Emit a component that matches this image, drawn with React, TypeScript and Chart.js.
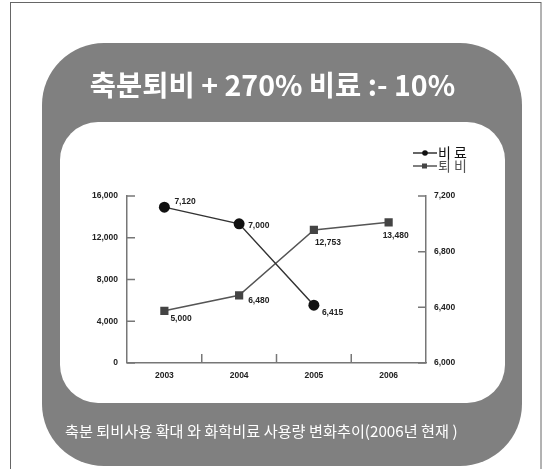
import { useEffect, useRef } from 'react';
import { Chart, registerables } from 'chart.js';

Chart.register(...registerables);

const years = ['2003', '2004', '2005', '2006'];
const fertilizer: (number | null)[] = [7120, 7000, 6415, null];
const compost: number[] = [5000, 6480, 12753, 13480];
const leftTickValues = [0, 4000, 8000, 12000, 16000];
const rightTickValues = [6000, 6400, 6800, 7200];
const seriesNames = ['비 료', '퇴 비'];
const titleText = '축분퇴비 + 270% 비료 :- 10%';
const footerText = '축분 퇴비사용 확대 와 화학비료 사용량 변화추이(2006년 현재 )';

// label placement relative to each point (style, not data)
const labelOffsets: number[][][] = [
  [[10, -5], [9, 2], [8, 7], [0, 0]],
  [[6, 8], [9, 5], [1, 13], [-6, 13]],
];

const W = 546;
const H = 469;
const PAD_L = 65;
const PAD_R = 66;
const tickFont = { family: "'Liberation Sans', Arial, sans-serif", size: 8.5, weight: 'bold' as const };
const fmt = (v: number) => v.toLocaleString('en-US');

const backgroundPlugin = {
  id: 'panelBackground',
  beforeDraw(chart: any) {
    const ctx = chart.ctx as CanvasRenderingContext2D;
    ctx.save();
    ctx.fillStyle = '#ffffff';
    ctx.fillRect(0, 0, W, H);
    ctx.strokeStyle = '#666';
    ctx.lineWidth = 1;
    ctx.strokeRect(10.5, 2.5, 530.5, 480);
    ctx.fillStyle = '#808080';
    ctx.beginPath();
    ctx.roundRect(42, 43, 480, 423, 62);
    ctx.fill();
    ctx.fillStyle = '#ffffff';
    ctx.beginPath();
    ctx.roundRect(60, 122, 445, 281, 38);
    ctx.fill();
    ctx.restore();
  },
};

const axisTicksPlugin = {
  id: 'inwardTicks',
  afterDraw(chart: any) {
    const ctx = chart.ctx as CanvasRenderingContext2D;
    const { x, y, y1 } = chart.scales;
    const area = chart.chartArea;
    ctx.save();
    ctx.strokeStyle = '#777';
    ctx.lineWidth = 1.5;
    ctx.beginPath();
    for (let i = 0; i < years.length - 1; i++) {
      const px = (x.getPixelForValue(i) + x.getPixelForValue(i + 1)) / 2;
      ctx.moveTo(px, area.bottom);
      ctx.lineTo(px, area.bottom - 9);
    }
    leftTickValues.forEach((v) => {
      const py = y.getPixelForValue(v);
      ctx.moveTo(area.left, py);
      ctx.lineTo(area.left + 8, py);
    });
    rightTickValues.forEach((v) => {
      const py = y1.getPixelForValue(v);
      ctx.moveTo(area.right, py);
      ctx.lineTo(area.right - 8, py);
    });
    ctx.stroke();
    ctx.restore();
  },
};

const dataLabelPlugin = {
  id: 'valueLabels',
  afterDatasetsDraw(chart: any) {
    const ctx = chart.ctx as CanvasRenderingContext2D;
    ctx.save();
    ctx.font = `bold ${tickFont.size}px ${tickFont.family}`;
    ctx.fillStyle = '#222';
    ctx.textAlign = 'left';
    ctx.textBaseline = 'middle';
    chart.data.datasets.forEach((ds: any, di: number) => {
      const meta = chart.getDatasetMeta(di);
      meta.data.forEach((el: any, i: number) => {
        const v = ds.data[i];
        if (v == null) return;
        const [dx, dy] = labelOffsets[di][i];
        ctx.fillText(fmt(v), el.x + dx, el.y + dy);
      });
    });
    ctx.restore();
  },
};

const legendPlugin = {
  id: 'lineLegend',
  afterDraw(chart: any) {
    const ctx = chart.ctx as CanvasRenderingContext2D;
    const textColors = ['#111', '#555'];
    ctx.save();
    chart.data.datasets.forEach((ds: any, di: number) => {
      const yy = 153 + di * 13;
      ctx.strokeStyle = ds.borderColor;
      ctx.lineWidth = 1.5;
      ctx.beginPath();
      ctx.moveTo(413, yy);
      ctx.lineTo(437, yy);
      ctx.stroke();
      ctx.fillStyle = ds.pointBackgroundColor;
      ctx.beginPath();
      if (ds.pointStyle === 'rect') ctx.rect(422, yy - 2.5, 5, 5);
      else ctx.arc(425, yy, 2.8, 0, Math.PI * 2);
      ctx.fill();
      ctx.fillStyle = textColors[di];
      ctx.font = "14px 'Noto Sans CJK KR', sans-serif";
      ctx.textAlign = 'left';
      ctx.textBaseline = 'middle';
      ctx.fillText(ds.label, 438, yy);
    });
    ctx.restore();
  },
};

export default function App() {
  const canvasRef = useRef<HTMLCanvasElement | null>(null);

  useEffect(() => {
    const canvas = canvasRef.current;
    if (!canvas) return;
    const chart = new Chart(canvas, {
      type: 'line',
      data: {
        labels: years,
        datasets: [
          {
            label: seriesNames[0],
            data: fertilizer,
            yAxisID: 'y1',
            borderColor: '#333',
            borderWidth: 1.5,
            pointStyle: 'circle',
            pointRadius: 5.5,
            pointBackgroundColor: '#111',
            pointBorderColor: '#111',
            pointBorderWidth: 0,
            fill: false,
            tension: 0,
          },
          {
            label: seriesNames[1],
            data: compost,
            yAxisID: 'y',
            borderColor: '#555',
            borderWidth: 1.5,
            pointStyle: 'rect',
            pointRadius: 5.8,
            pointBackgroundColor: '#444',
            pointBorderColor: '#444',
            pointBorderWidth: 0,
            fill: false,
            tension: 0,
          },
        ],
      },
      options: {
        responsive: false,
        animation: false,
        devicePixelRatio: 1,
        layout: { padding: { left: PAD_L, right: PAD_R, top: 0, bottom: 0 } },
        plugins: {
          legend: { display: false },
          tooltip: { enabled: false },
          title: {
            display: true,
            text: titleText,
            color: '#ffffff',
            font: { family: "'Noto Sans CJK KR', sans-serif", size: 28.5, weight: 'bold' },
            padding: { top: 68.5, bottom: 93.3 },
          },
          subtitle: {
            display: true,
            position: 'bottom',
            align: 'start',
            text: footerText,
            color: '#ffffff',
            font: { family: "'Noto Sans CJK KR', sans-serif", size: 15.2, weight: 'normal' },
            padding: { top: 10, bottom: 28.9 },
          },
        },
        scales: {
          x: {
            type: 'category',
            offset: true,
            grid: { display: true, drawOnChartArea: false, drawTicks: false, offset: true },
            border: { display: true, color: '#777', width: 1.5 },
            ticks: { font: tickFont, color: '#222', padding: 8, maxRotation: 0 },
            afterFit: (s: any) => { s.height = 48.9; },
          },
          y: {
            type: 'linear',
            position: 'left',
            min: 0,
            max: 16000,
            grid: { display: true, drawOnChartArea: false, drawTicks: false },
            border: { display: true, color: '#777', width: 1.5 },
            ticks: { font: tickFont, color: '#222', padding: 9, callback: (v: any) => fmt(Number(v)) },
            afterBuildTicks: (s: any) => { s.ticks = leftTickValues.map((v) => ({ value: v })); },
            afterFit: (s: any) => { s.width = 127 - PAD_L; },
          },
          y1: {
            type: 'linear',
            position: 'right',
            min: 6000,
            max: 7200,
            grid: { display: true, drawOnChartArea: false, drawTicks: false },
            border: { display: true, color: '#777', width: 1.5 },
            ticks: { font: tickFont, color: '#222', padding: 8, callback: (v: any) => fmt(Number(v)) },
            afterBuildTicks: (s: any) => { s.ticks = rightTickValues.map((v) => ({ value: v })); },
            afterFit: (s: any) => { s.width = W - 426 - PAD_R; },
          },
        },
      },
      plugins: [backgroundPlugin, axisTicksPlugin, dataLabelPlugin, legendPlugin],
    } as any);
    return () => chart.destroy();
  }, []);

  return (
    <div style={{ position: 'fixed', left: 0, top: 0, width: W, height: H, background: '#fff' }}>
      <canvas ref={canvasRef} width={W} height={H} style={{ display: 'block' }} />
    </div>
  );
}
